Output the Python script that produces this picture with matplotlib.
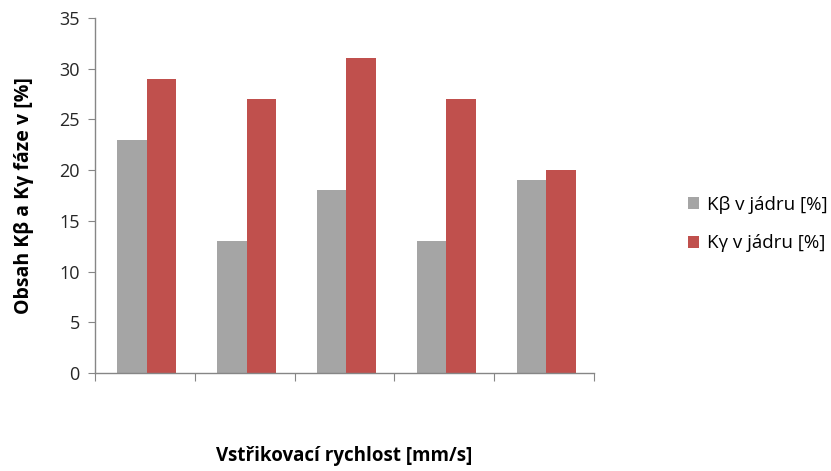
import matplotlib.pyplot as plt
import numpy as np

plt.rcParams['font.family'] = ['Open Sans', 'DejaVu Sans']

categories = ['', '', '', '', '']
k_beta = [23, 13, 18, 13, 19]
k_gamma = [29, 27, 31, 27, 20]
series_labels = ['Kβ v jádru [%]', 'Kγ v jádru [%]']
yticks = [0, 5, 10, 15, 20, 25, 30, 35]

fig = plt.figure(figsize=(8.31, 4.71), dpi=100)
ax = fig.add_axes([0.1143, 0.208, 0.6005, 0.754])

x = np.arange(len(categories))
w = 0.295
ax.bar(x - w / 2 + 0.02, k_beta, width=w, color='#A5A5A5', label=series_labels[0])
ax.bar(x + w / 2 + 0.02, k_gamma, width=w, color='#C0504D', label=series_labels[1])

ax.set_xlim(-0.5, len(categories) - 0.5)
ax.set_ylim(0, 35)
ax.set_yticks(yticks)
ax.set_xticks(np.arange(-0.5, len(categories) + 0.5, 1.0))
ax.set_xticklabels([])

for s in ['top', 'right']:
    ax.spines[s].set_visible(False)
for s in ['left', 'bottom']:
    ax.spines[s].set_color('#868686')
    ax.spines[s].set_linewidth(1.0)
ax.tick_params(axis='y', length=5, color='#868686', labelsize=13, pad=6,
               labelcolor='#262626')
ax.tick_params(axis='x', length=6, color='#868686')

ax.set_ylabel('Obsah Kβ a Kγ fáze v [%]', fontsize=14, fontweight='bold')
ax.yaxis.set_label_coords(-0.122, 0.5)
fig.text(0.4145, 1 - 456 / 471, 'Vstřikovací rychlost [mm/s]', fontsize=13.5,
         fontweight='bold', ha='center', va='center')

ax.legend(loc='center left', bbox_to_anchor=(1.155, 0.42), frameon=False,
          fontsize=13.5, handlelength=0.6, handleheight=0.6,
          labelspacing=1.1, handletextpad=0.4)

fig.savefig('out.png', dpi=100)
